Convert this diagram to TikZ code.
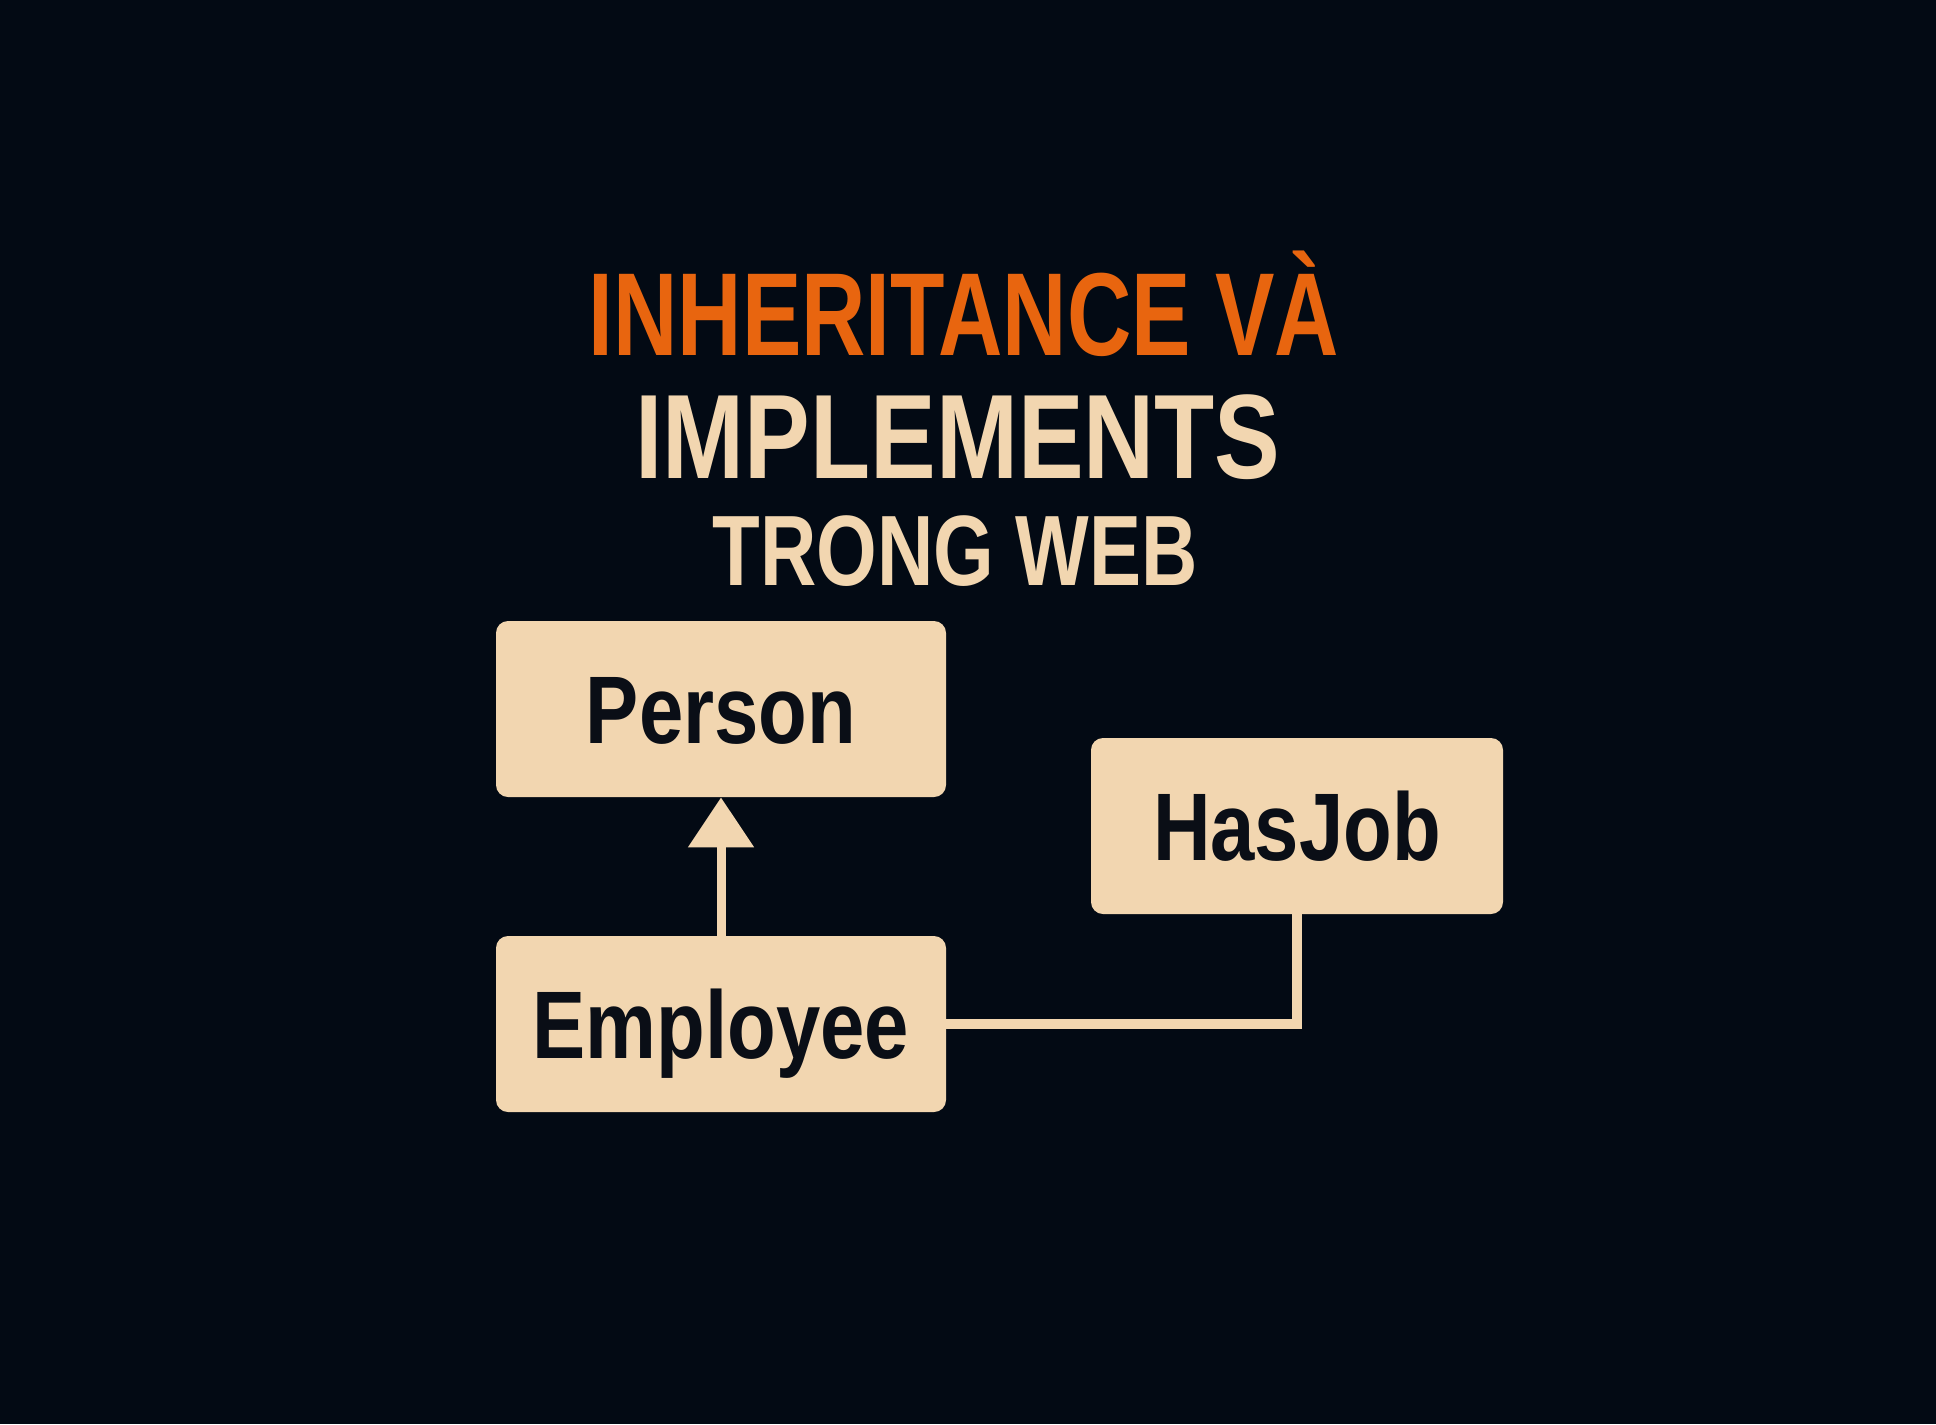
\documentclass[tikz,border=0pt]{standalone}
\usepackage{fontspec}
\usepackage{tikz}
\usetikzlibrary{arrows.meta}
\setmainfont{Liberation Sans}
\newfontfamily\headfont[FakeStretch=0.755]{Liberation Sans Bold}
\newfontfamily\subheadfont[FakeStretch=0.82]{Liberation Sans Bold}
\newfontfamily\tailfont[FakeStretch=0.78]{Liberation Sans Bold}
\newfontfamily\labelfont[FakeStretch=0.83]{Liberation Sans Bold}
\definecolor{bgnight}{HTML}{030A14}
\definecolor{titleorange}{HTML}{E8650F}
\definecolor{cream}{HTML}{F2D6B0}
\definecolor{inkdark}{HTML}{0A0E16}

\begin{document}
\begin{tikzpicture}[x=0.5pt, y=-0.5pt,
    classbox/.style={fill=cream, rounded corners=6pt, inner sep=0pt,
        minimum height=88pt, text=inkdark, text height=34pt, text depth=0pt,
        font=\labelfont\fontsize{48pt}{48pt}\selectfont},
    headline/.style={anchor=base, inner sep=0pt},
    inherit/.style={draw=cream, line width=4.5pt, -{Triangle[length=25pt, width=32pt]}},
    realize/.style={draw=cream, line width=5pt}]
    \fill[bgnight] (0,0) rectangle (1936,1424);
    \useasboundingbox (0,0) rectangle (1936,1424);
    % Title
    \node[headline, text=titleorange, font=\headfont\fontsize{59pt}{59pt}\selectfont]
        (line1) at (964,355) {INHERITANCE VÀ};
    \node[headline, text=cream, font=\subheadfont\fontsize{60pt}{60pt}\selectfont]
        (line2) at (958,478) {IMPLEMENTS};
    \node[headline, text=cream, font=\tailfont\fontsize{50pt}{50pt}\selectfont]
        (line3) at (955,585) {TRONG WEB};
    % Classes
    \node[classbox, minimum width=225pt](person)    at (721,709)  {Person};
    \node[classbox, minimum width=206pt](hasjob)    at (1297,826) {HasJob};
    \node[classbox, minimum width=225pt](employee)  at (721,1024) {Employee};
    % Relations
    \path
        (employee)
            edge [inherit] (person)
        (employee.east)
            edge [realize, to path={-| (\tikztotarget)}] (hasjob.south)
        ;
\end{tikzpicture}
\end{document}
